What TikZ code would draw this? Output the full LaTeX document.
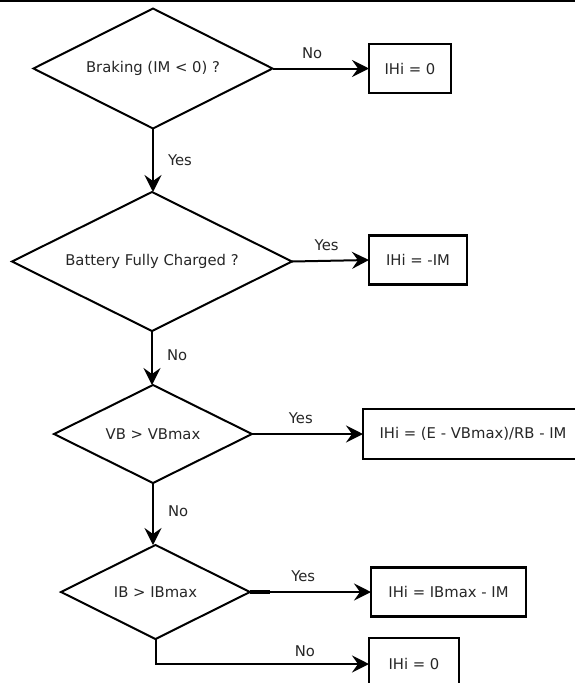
\documentclass[tikz,border=0pt]{standalone}
\usepackage{fontspec}
\setmainfont{DejaVu Sans}
\usetikzlibrary{arrows.meta,shapes.geometric}
\begin{document}
\begin{tikzpicture}[x=1pt,y=-1pt,
  txt/.style={font=\fontsize{14.8}{17}\selectfont, text=black!85},
  decision/.style={txt, draw, line width=2pt, shape=diamond, aspect=2, inner sep=0pt, outer sep=0pt},
  result/.style={txt, draw, line width=2.2pt, rectangle, inner sep=0pt, outer sep=0pt},
  flow/.style={line width=2pt, -{Stealth[length=17pt,width=17pt,inset=6pt]}},
  lbl/.style={txt, inner sep=0pt}]
\useasboundingbox (0,0) rectangle (575,683);
\draw[line width=2.5pt] (0,0.3) -- (575,0.3);
% decisions
\node[decision, minimum width=239pt, minimum height=120pt] (d1) at (153,68.5) {Braking (IM < 0) ?};
\node[decision, minimum width=280pt, minimum height=139pt] (d2) at (152,261.5) {Battery Fully Charged ?};
\node[decision, minimum width=198pt, minimum height=98pt] (d3) at (153,434) {VB > VBmax};
\node[decision, minimum width=189pt, minimum height=94pt] (d4) at (155.5,592) {IB > IBmax};
% results
\node[result, minimum width=82pt, minimum height=49pt] (b1) at (410,68.5) {IHi = 0};
\node[result, minimum width=98pt, minimum height=49pt] (b2) at (418,260) {IHi = -IM};
\node[result, minimum width=220pt, minimum height=50pt] (b3) at (473,434) {IHi = (E - VBmax)/RB - IM};
\node[result, minimum width=155pt, minimum height=49pt] (b4) at (448.5,592) {IHi = IBmax - IM};
\node[result, minimum width=90pt, minimum height=52pt] (b5) at (414,664) {IHi = 0};
% connectors
\draw[flow] (d1.east) -- (b1.west) node[lbl, pos=0.41, above=9pt] {No};
\draw[flow] (d1.south) -- (d1.south |- d2.north) node[lbl, pos=0.5, right=14pt] {Yes};
\draw[flow] (d2.east) -- (b2.west) node[lbl, pos=0.45, above=9pt] {Yes};
\draw[flow] (d2.south) -- (d2.south |- d3.north) node[lbl, pos=0.45, right=14pt] {No};
\draw[flow] (d3.east) -- (b3.west) node[lbl, pos=0.44, above=9pt] {Yes};
\draw[flow] (d3.south) -- (d3.south |- d4.north) node[lbl, pos=0.45, right=14pt] {No};
\draw[line width=3.5pt] (d4.east) -- ++(20,0);
\draw[flow] (d4.east) -- (b4.west) node[lbl, pos=0.44, above=9pt] {Yes};
\draw[flow] (d4.south) |- (b5.west) node[lbl, pos=0.85, above=6pt] {No};
\end{tikzpicture}
\end{document}
